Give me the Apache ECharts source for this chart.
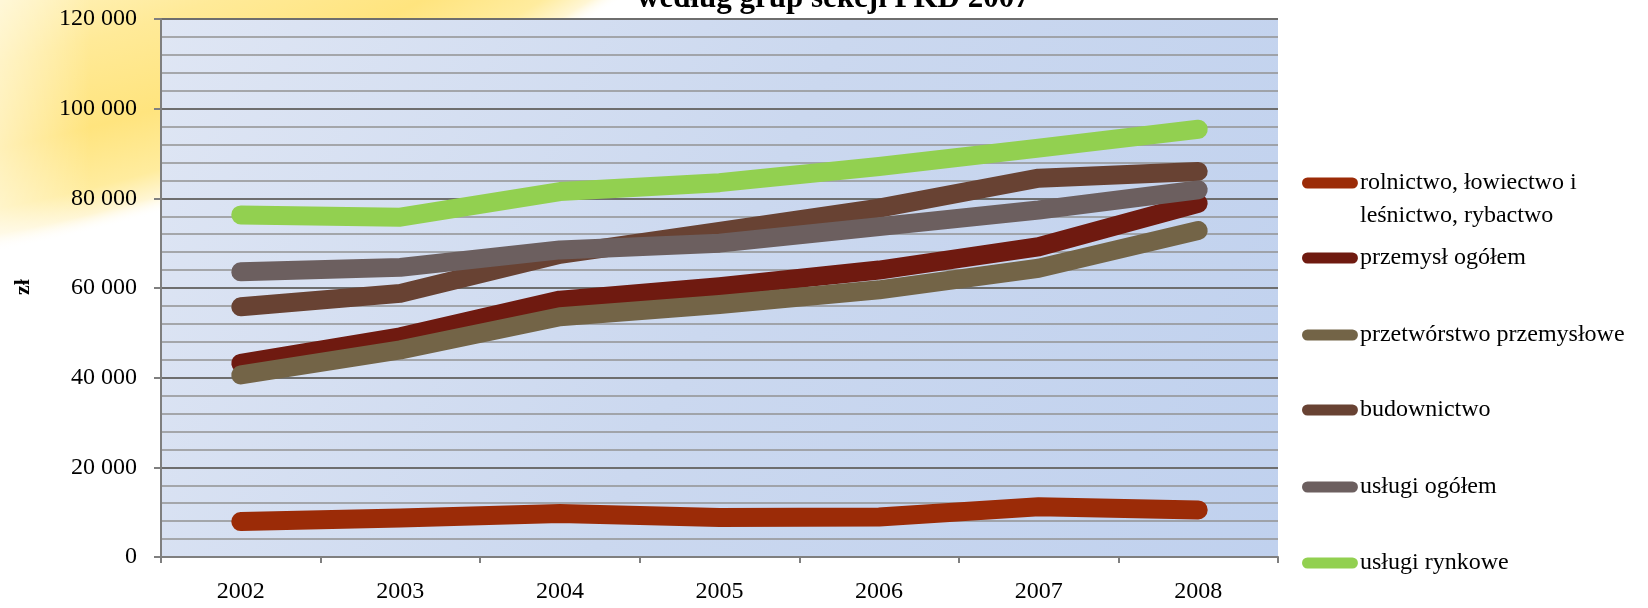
<!DOCTYPE html>
<html>
<head>
<meta charset="utf-8">
<script src="https://cdn.jsdelivr.net/npm/echarts@6/dist/echarts.min.js"></script>
<style>
html,body{margin:0;padding:0;background:#fff;}
#c{width:1648px;height:608px;}
</style>
</head>
<body>
<div id="c"></div>
<script>
// ---- data ----
var years = ['2002', '2003', '2004', '2005', '2006', '2007', '2008'];
var seriesNames = [
  'rolnictwo, łowiectwo i leśnictwo, rybactwo',
  'przemysł ogółem',
  'przetwórstwo przemysłowe',
  'budownictwo',
  'usługi ogółem',
  'usługi rynkowe'
];
var rolnictwo     = [7900, 8700, 9700, 8800, 8900, 11200, 10500];
var przemysl      = [43200, 49100, 57300, 60300, 64000, 69200, 78900];
var przetworstwo  = [40600, 46200, 53600, 56300, 59600, 64400, 72800];
var budownictwo   = [55800, 58800, 67500, 72600, 77800, 84500, 86000];
var uslugiOgolem  = [63600, 64600, 68500, 70000, 73700, 77400, 81900];
var uslugiRynkowe = [76300, 75800, 81500, 83500, 87100, 91200, 95400];
var yMin = 0, yMax = 120000, yStep = 20000, yMinorSplit = 5;
var titleText = 'według grup sekcji PKD 2007';
var yName = 'zł';

// ---- styles ----
var colors = ['#9B2B07', '#6F1A10', '#736447', '#684233', '#6C5F5F', '#92D050'];
var values = [rolnictwo, przemysl, przetworstwo, budownictwo, uslugiOgolem, uslugiRynkowe];
var serif = '"Liberation Serif", "DejaVu Serif", serif';

function fmt(v) { return String(v).replace(/\B(?=(\d{3})+(?!\d))/g, ' '); }

var series = values.map(function (d, i) {
  return {
    name: seriesNames[i],
    type: 'line',
    data: d,
    symbol: 'none',
    smooth: false,
    lineStyle: { width: 19, color: colors[i], cap: 'round', join: 'round' },
    itemStyle: { color: colors[i] },
    z: 2 + i
  };
});

var legendCenters = [183, 258, 335, 410, 487, 563];
var lh = 33;
var legends = seriesNames.map(function (n, i) {
  var lines = (i === 0) ? 3 : 1;
  return {
    data: [n],
    left: 1302,
    top: legendCenters[i] - lines * lh / 2,
    padding: 0,
    itemWidth: 58,
    itemHeight: 11,
    icon: 'path://M6,0 H55 A6,6 0 0 1 55,12 H6 A6,6 0 0 1 6,0 Z',
    selectedMode: false,
    formatter: function (name) {
      if (i === 0) {
        var idx = name.indexOf(' leśnictwo');
        return '\n' + name.slice(0, idx) + '\n' + name.slice(idx + 1);
      }
      return name;
    },
    textStyle: { fontFamily: serif, fontSize: 24, color: '#000', lineHeight: lh, padding: [0, 0, 0, -4] }
  };
});

var chart = echarts.init(document.getElementById('c'), null, { renderer: 'canvas' });
chart.setOption({
  animation: false,
  backgroundColor: '#fff',
  title: {
    text: titleText,
    left: 637,
    top: -17,
    padding: 0,
    textStyle: { fontFamily: serif, fontSize: 31, fontWeight: 'bold', color: '#000' }
  },
  graphic: [
    {
      type: 'circle',
      z: -10,
      silent: true,
      shape: { cx: -307, cy: -1405, r: 1684 },
      style: {
        fill: {
          type: 'radial', x: 0.5, y: 0.5, r: 0.5,
          colorStops: [
            { offset: 0, color: '#FFF8D8' },
            { offset: 0.84, color: '#FFF4C4' },
            { offset: 0.89, color: '#FFEA98' },
            { offset: 0.94, color: '#FFE47E' },
            { offset: 0.975, color: '#FFEC9E' },
            { offset: 0.99, color: '#FFF6D4' },
            { offset: 1, color: 'rgba(255,255,255,0)' }
          ]
        }
      }
    },
    {
      type: 'rect',
      z: -9,
      silent: true,
      shape: { x: 0, y: 0, width: 90, height: 270 },
      style: {
        fill: {
          type: 'linear', x: 0, y: 0, x2: 1, y2: 0,
          colorStops: [
            { offset: 0, color: 'rgba(255,255,255,0.45)' },
            { offset: 1, color: 'rgba(255,255,255,0)' }
          ]
        }
      }
    },
    {
      type: 'text',
      x: 23, y: 287,
      rotation: Math.PI / 2,
      silent: true,
      style: {
        text: yName,
        fontFamily: serif, fontSize: 22, fontWeight: 'bold', fill: '#000',
        textAlign: 'center', textVerticalAlign: 'middle'
      }
    }
  ],
  grid: {
    left: 161, right: 370, top: 19, bottom: 51,
    show: true,
    borderWidth: 0,
    backgroundColor: {
      type: 'linear', x: 0, y: 0, x2: 1, y2: 1,
      colorStops: [
        { offset: 0, color: '#DFE6F4' },
        { offset: 0.5, color: '#CBD8EF' },
        { offset: 1, color: '#C0D1EE' }
      ]
    }
  },
  legend: legends,
  xAxis: {
    type: 'category',
    data: years,
    boundaryGap: true,
    axisLine: { show: true, lineStyle: { color: '#7F7F7F', width: 2 } },
    axisTick: { show: true, length: 6, lineStyle: { color: '#7F7F7F', width: 2 } },
    axisLabel: { margin: 23, fontFamily: serif, fontSize: 24, color: '#000' },
    splitLine: { show: false }
  },
  yAxis: {
    type: 'value',
    min: yMin, max: yMax, interval: yStep,
    axisLine: { show: true, lineStyle: { color: '#7F7F7F', width: 2 } },
    axisTick: { show: true, length: 7, lineStyle: { color: '#7F7F7F', width: 2 } },
    axisLabel: { margin: 24, fontFamily: serif, fontSize: 24, color: '#000', formatter: fmt },
    splitLine: { show: true, lineStyle: { color: '#6E6E6E', width: 2 } },
    minorTick: { show: false, splitNumber: yMinorSplit },
    minorSplitLine: { show: true, lineStyle: { color: '#939393', width: 1.5 } }
  },
  series: series
});
</script>
</body>
</html>
